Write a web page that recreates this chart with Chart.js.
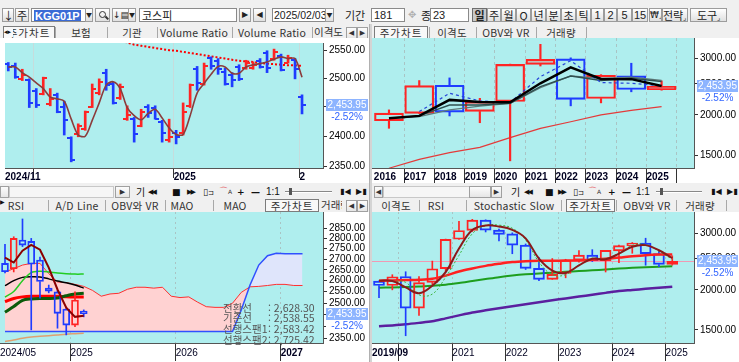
<!DOCTYPE html>
<html lang="ko"><head><meta charset="utf-8">
<script src="https://cdn.jsdelivr.net/npm/chart.js@4.4.1/dist/chart.umd.min.js"></script>
<style>
*{box-sizing:border-box}
body{margin:0;width:739px;height:362px;overflow:hidden;background:#f0f0f0;position:relative;font-family:"Noto Sans CJK KR","Noto Sans",sans-serif;color:#222}
.b{position:absolute;top:8px;height:14px;border:1px solid #9c9c9c;background:linear-gradient(#ffffff,#e0e0e0);font-size:11px;line-height:12px;text-align:center;white-space:nowrap;overflow:hidden}
.b.p{background:#c9c9c9;border-color:#6e6e6e;font-weight:bold}
.i{position:absolute;top:8px;height:14px;border:1px solid #8a8a8a;background:#fff;font-size:11px;line-height:12px;padding-left:2px;white-space:nowrap;overflow:hidden}
.t{position:absolute;font-size:11px;line-height:12px;white-space:nowrap}
.tab{position:absolute;font-size:10.5px;line-height:11px;white-space:nowrap;transform:translateX(-50%);color:#333;letter-spacing:0.2px}
.sep{position:absolute;width:1px;height:11px;background:#a8a8a8}
.act{position:absolute;height:13px;border:1px solid #7c7c7c;background:#f8f8f8;font-size:10.5px;line-height:11px;text-align:center;color:#333;letter-spacing:1px}
.ic{position:absolute;font-family:"DejaVu Sans",sans-serif;font-size:9px;line-height:10px;white-space:nowrap;color:#111}
.sb{position:absolute;height:12px;border:1px solid #a0a0a0;background:linear-gradient(#fcfcfc,#e6e6e6);font-family:"DejaVu Sans";font-size:7px;line-height:10px;text-align:center;color:#333}
.trk{position:absolute;height:2px;background:#888;border-bottom:1px solid #fff}
.thb{position:absolute;width:3px;height:7px;background:#555}
.iv{position:absolute;font-size:10.5px;line-height:11px;color:#555;white-space:nowrap}
canvas{position:absolute}
.mag{position:absolute;left:3px;top:2px;width:7px;height:7px;border:1.5px solid #333;border-radius:50%}
.magh{position:absolute;left:9px;top:8px;width:4px;height:1.5px;background:#333;transform:rotate(45deg)}
</style></head><body>

<!-- ===== top toolbar ===== -->
<div class="b" style="left:2px;width:12px">↓</div>
<div class="b" style="left:15px;width:14px">주</div>
<div class="i" style="left:31px;width:55px;padding-left:2px"><span style="background:#3a6bd6;color:#fff;font-weight:bold;font-family:'Liberation Sans',Arial;font-size:11px;padding:0 1px">KGG01P</span></div>
<div class="b" style="left:85px;width:8px;font-size:6px">▼</div>
<div class="b" style="left:95px;width:15px"><span class="mag"></span><span class="magh"></span></div>
<div class="b" style="left:112px;width:17px;font-size:9px;font-family:'DejaVu Sans'">↓▤</div>
<div class="b" style="left:128px;width:8px;font-size:6px">▼</div>
<div class="i" style="left:139px;width:98px">코스피</div>
<div class="b" style="left:239px;width:12px;font-size:8px;font-family:'DejaVu Sans'">▶</div>
<div class="b" style="left:253px;width:13px;font-size:8px;font-family:'DejaVu Sans'">◀</div>
<div class="i" style="left:272px;width:62px;font-family:'Liberation Sans';font-size:10.5px;padding-left:1px">2025/02/03</div>
<div class="b" style="left:325px;width:9px;font-size:6px">▼</div>
<div class="t" style="left:345px;top:9px">기간</div>
<div class="i" style="left:371px;width:34px;font-family:'Liberation Sans'">181</div>
<div class="t" style="left:408px;top:9px;color:#b0b0b0;font-family:'DejaVu Sans';font-size:10px">✥</div>
<div class="t" style="left:421px;top:9px">종</div>
<div class="i" style="left:430px;width:39px;font-family:'Liberation Sans'">23</div>
<div class="b p" style="left:472px;width:15px">일</div>
<div class="b" style="left:487px;width:14px">주</div>
<div class="b" style="left:501px;width:15px">월</div>
<div class="b" style="left:516px;width:15px">Q</div>
<div class="b" style="left:531px;width:15px">년</div>
<div class="b" style="left:546px;width:15px">분</div>
<div class="b" style="left:561px;width:15px">초</div>
<div class="b" style="left:576px;width:15px">틱</div>
<div class="b" style="left:591px;width:13px;font-family:'Liberation Sans'">1</div>
<div class="b" style="left:604px;width:13px;font-family:'Liberation Sans'">2</div>
<div class="b" style="left:617px;width:15px;font-family:'Liberation Sans'">5</div>
<div class="b" style="left:632px;width:16px;font-family:'Liberation Sans'">15</div>
<div class="b" style="left:649px;width:13px;font-family:'DejaVu Sans';font-size:9px">₩<span style="font-size:6px">⌟</span></div>
<div class="b" style="left:662px;width:26px;text-align:right;padding-right:1px">전략<span style="font-size:7px">⌟</span></div>
<div class="b" style="left:690px;width:37px">도구<span style="font-size:7px">⌟</span></div>

<!-- ===== top tab rows ===== -->
<div class="act" style="left:3px;top:26px;width:52px">주가차트</div>
<div class="ic" style="left:4px;top:27px;width:9px;font-size:7px;background:#f8f8f8">◂▸</div>
<div class="sep" style="left:55px;top:27px"></div>
<div class="tab" style="left:81px;top:27px">보험</div>
<div class="sep" style="left:107px;top:27px"></div>
<div class="tab" style="left:132px;top:27px">기관</div>
<div class="sep" style="left:157px;top:27px"></div>
<div class="tab" style="left:194px;top:27px">Volume Ratio</div>
<div class="sep" style="left:232px;top:27px"></div>
<div class="tab" style="left:272px;top:27px">Volume Ratio</div>
<div class="sep" style="left:312px;top:27px"></div>
<div class="t" style="left:314px;top:26px;width:32px;overflow:hidden;font-size:10.5px;color:#333">이격도</div>
<div class="sb" style="left:346px;top:27px;width:11px">◀</div>
<div class="sb" style="left:357px;top:27px;width:11px">▶</div>

<div class="act" style="left:374px;top:26px;width:54px">주가차트</div>
<div class="sep" style="left:429px;top:27px"></div>
<div class="tab" style="left:452px;top:27px">이격도</div>
<div class="sep" style="left:476px;top:27px"></div>
<div class="tab" style="left:506px;top:27px">OBV와 VR</div>
<div class="sep" style="left:536px;top:27px"></div>
<div class="tab" style="left:561px;top:27px">거래량</div>
<div class="sep" style="left:586px;top:27px"></div>

<!-- panel divider -->
<div style="position:absolute;left:369px;top:24px;width:3px;height:338px;background:#d4d4d4;border-left:1px solid #b0b0b0"></div>

<!-- ===== middle toolbars ===== -->
<div class="sb" style="left:0px;top:186px;width:9px"></div>
<div style="position:absolute;left:9px;top:186px;width:105px;height:12px;background:#f6f6f6;border:1px solid #c8c8c8"></div>
<div class="sb" style="left:115px;top:186px;width:15px">▶</div>
<div class="ic" style="left:136px;top:187px;font-family:'Noto Sans CJK KR';font-size:10px">기</div>
<div class="ic" style="left:148px;top:187px;font-size:7px;letter-spacing:-2px">◀◀</div>
<div class="ic" style="left:172px;top:187px">■</div>
<div class="ic" style="left:187px;top:187px;font-size:7px;letter-spacing:-2px">▶▶</div>
<div class="ic" style="left:203px;top:187px">▯<span style="font-size:7px">⊐</span></div>
<div class="ic" style="left:219px;top:186px;color:#e03030">⌒<span style="font-size:6px;color:#333">A</span></div>
<div class="ic" style="left:237px;top:187px;font-weight:bold">+</div>
<div class="ic" style="left:251px;top:187px;font-weight:bold">—</div>
<div class="ic" style="left:266px;top:187px;font-family:'Liberation Sans';font-size:10px">1:1</div>
<div class="trk" style="left:285px;top:191px;width:47px"></div>
<div class="thb" style="left:289px;top:188px"></div>
<div class="ic" style="left:340px;top:187px;font-size:8px;font-weight:bold">▮◀</div>
<div class="ic" style="left:356px;top:187px;font-size:8px;font-weight:bold">▶▮</div>

<div class="sb" style="left:374px;top:186px;width:9px">◀</div>
<div style="position:absolute;left:383px;top:186px;width:87px;height:12px;background:#f6f6f6;border:1px solid #c8c8c8"></div>
<div class="sb" style="left:469px;top:186px;width:22px"></div>
<div class="sb" style="left:491px;top:186px;width:11px">▶</div>
<div class="ic" style="left:511px;top:187px;font-family:'Noto Sans CJK KR';font-size:10px">기</div>
<div class="ic" style="left:524px;top:187px;font-size:7px;letter-spacing:-2px">◀◀</div>
<div class="ic" style="left:545px;top:187px">■</div>
<div class="ic" style="left:558px;top:187px;font-size:7px;letter-spacing:-2px">▶▶</div>
<div class="ic" style="left:573px;top:187px">▯<span style="font-size:7px">⊐</span></div>
<div class="ic" style="left:588px;top:186px;color:#e03030">⌒<span style="font-size:6px;color:#333">A</span></div>
<div class="ic" style="left:608px;top:187px;font-weight:bold">+</div>
<div class="ic" style="left:622px;top:187px;font-weight:bold">—</div>
<div class="ic" style="left:636px;top:187px;font-family:'Liberation Sans';font-size:10px">1:1</div>
<div class="trk" style="left:656px;top:191px;width:46px"></div>
<div class="thb" style="left:660px;top:188px"></div>
<div class="ic" style="left:711px;top:187px;font-size:8px;font-weight:bold">▮◀</div>
<div class="ic" style="left:727px;top:187px;font-size:8px;font-weight:bold">▶▮</div>

<!-- ===== bottom tab rows ===== -->
<div class="ic" style="left:0px;top:197px;font-size:6px">▶</div>
<div class="tab" style="left:16px;top:200px">RSI</div>
<div class="sep" style="left:48px;top:200px"></div>
<div class="tab" style="left:77px;top:200px">A/D Line</div>
<div class="sep" style="left:105px;top:200px"></div>
<div class="tab" style="left:135px;top:200px">OBV와 VR</div>
<div class="sep" style="left:165px;top:200px"></div>
<div class="tab" style="left:182px;top:200px">MAO</div>
<div class="sep" style="left:213px;top:200px"></div>
<div class="tab" style="left:235px;top:200px">MAO</div>
<div class="act" style="left:265px;top:199px;width:54px">주가차트</div>
<div class="t" style="left:321px;top:199px;width:21px;overflow:hidden;font-size:10.5px;color:#333">거래량</div>
<div class="sb" style="left:346px;top:200px;width:11px">◀</div>
<div class="sb" style="left:357px;top:200px;width:11px">▶</div>

<div class="tab" style="left:396px;top:200px">이격도</div>
<div class="sep" style="left:419px;top:200px"></div>
<div class="tab" style="left:436px;top:200px">RSI</div>
<div class="sep" style="left:466px;top:200px"></div>
<div class="tab" style="left:514px;top:200px">Stochastic Slow</div>
<div class="sep" style="left:561px;top:200px"></div>
<div class="act" style="left:566px;top:199px;width:49px">주가차트</div>
<div class="sep" style="left:616px;top:200px"></div>
<div class="tab" style="left:647px;top:200px">OBV와 VR</div>
<div class="sep" style="left:676px;top:200px"></div>
<div class="tab" style="left:700px;top:200px">거래량</div>
<div class="sep" style="left:726px;top:200px"></div>

<!-- ===== charts ===== -->
<canvas id="cTL" width="369" height="145" style="left:0;top:38px"></canvas>
<canvas id="cTR" width="367" height="145" style="left:372px;top:38px"></canvas>
<canvas id="cBL" width="369" height="150" style="left:0;top:212px"></canvas>
<canvas id="cBR" width="367" height="150" style="left:372px;top:212px"></canvas>

<!-- ichimoku readout -->
<div class="iv" style="left:223px;top:302px">전환선</div><div class="iv" style="left:268px;top:302px">: 2,628.30</div>
<div class="iv" style="left:223px;top:312px">기준선</div><div class="iv" style="left:268px;top:312px">: 2,538.55</div>
<div class="iv" style="left:223px;top:323px">선행스팬1</div><div class="iv" style="left:268px;top:323px">: 2,583.42</div>
<div class="iv" style="left:223px;top:334px">선행스팬2</div><div class="iv" style="left:268px;top:334px">: 2,725.42</div>

<script>
// ================= DATA =================
const lastPrice = 2453.95;
const changePct = -2.52;

// --- top-left: daily (KOSPI) ---
const dailyDates = ['2024-11-26','2024-11-27','2024-11-28','2024-11-29','2024-12-02','2024-12-03','2024-12-04','2024-12-05','2024-12-06','2024-12-09','2024-12-10','2024-12-11','2024-12-12','2024-12-13','2024-12-16','2024-12-17','2024-12-18','2024-12-19','2024-12-20','2024-12-23','2024-12-24','2024-12-26','2024-12-27','2024-12-30','2025-01-02','2025-01-03','2025-01-06','2025-01-07','2025-01-08','2025-01-09','2025-01-10','2025-01-13','2025-01-14','2025-01-15','2025-01-16','2025-01-17','2025-01-20','2025-01-21','2025-01-22','2025-01-23','2025-01-24','2025-01-31','2025-02-03'];
const dailyOpen  = [2525,2521,2498,2497,2478,2473,2455,2470,2450,2397,2403,2412,2450,2475,2510,2490,2466,2430,2430,2418,2450,2448,2425,2394,2405,2405,2452,2517,2490,2536,2530,2512,2505,2520,2518,2518,2530,2545,2534,2540,2528,2532,2468];
const dailyHigh  = [2528,2527,2516,2499,2482,2502,2482,2474,2460,2399,2421,2443,2490,2499,2516,2493,2490,2452,2432,2446,2454,2452,2427,2429,2410,2457,2490,2521,2527,2538,2535,2518,2510,2524,2532,2529,2535,2549,2552,2543,2541,2535,2471];
const dailyLow   = [2513,2500,2496,2449,2449,2471,2452,2440,2402,2357,2399,2410,2449,2471,2479,2455,2463,2427,2390,2416,2432,2429,2390,2390,2387,2402,2449,2479,2488,2516,2507,2488,2485,2496,2516,2516,2518,2510,2532,2513,2527,2499,2438];
const dailyClose = [2520,2503,2505,2456,2454,2500,2464,2442,2428,2360,2418,2442,2482,2494,2489,2457,2484,2436,2404,2442,2440,2430,2405,2399,2399,2442,2489,2492,2522,2521,2516,2490,2497,2498,2527,2523,2520,2518,2547,2515,2536,2517,2453.95];
const dailyMA5   = [2520,2520,2510,2502,2492,2482,2467,2464,2460,2429,2402,2400,2427,2457,2488,2494,2482,2449,2435,2428,2439,2446,2431,2414,2403,2403,2435,2474,2491,2507,2521,2520,2509,2509,2520,2524,2526,2529,2534,2538,2535,2535,2502];
const dailyMALong= [null,null,null,null,null,null,null,null,null,null,null,null,null,null,null,2570,2567,2564,2560,2558,2556,2554,2552,2550,2549,2547,2545,2543,2541,2539,2537,2535,2533,2531,2530,2529,2527,2526,2525,2524,2523,2523,2522];
const dailyTickLabels = ['2024/11','','2025','2'];

// --- top-right: yearly ---
const yearLabels = ['2016','2017','2018','2019','2020','2021','2022','2023','2024','2025'];
const yearOpen  = [1918,2022,2474,2050,2201,2874,2988,2249,2645,2398];
const yearHigh  = [2073,2558,2607,2252,2878,3316,3010,2668,2896,2552];
const yearLow   = [1817,2020,1985,1891,1439,2839,2134,2180,2360,2387];
const yearClose = [2026,2467,2041,2197,2873,2977,2236,2655,2399,2453.95];
const yearBlack = [1953,1986,2227,2195,2190,2508,2813,2588,2584,2461];
const yearGrayA = [1953,1986,2148,2148,2174,2450,2644,2557,2600,2539];
const yearGrayB = [1950,1975,2072,2131,2170,2430,2644,2600,2620,2560];
const yearBlueDash = [null,2048,2335,2211,2186,2631,2950,2521,2508,2461];
const yearRed   = [1365,1454,1526,1584,1700,1815,1904,2000,2066,2123];

// --- bottom-left: monthly ichimoku ---
const monthLabels = ['2024/05','2024/06','2024/07','2024/08','2024/09','2024/10','2024/11','2024/12','2025/01','2025/02','2025/03','2025/04','2025/05','2025/06','2025/07','2025/08','2025/09','2025/10','2025/11','2025/12','2026/01','2026/02','2026/03','2026/04','2026/05','2026/06','2026/07','2026/08','2026/09','2026/10','2026/11','2026/12','2027/01','2027/02','2027/03'];
const monOpen  = [2680,2655,2792,2785,2696,2566,2549,2474,2405,2465];
const monHigh  = [2771,2808,2897,2800,2710,2580,2556,2480,2550,2470];
const monLow   = [2636,2640,2760,2385,2521,2545,2392,2364,2398,2440];
const monClose = [2641,2800,2767,2676,2596,2553,2455,2405,2513,2454];
const monDarkRed  = [2707,2684,2740,2768,2745,2660,2560,2480,2440,2445];
const monBlack    = [2577,2600,2615,2618,2617,2608,2598,2590,2580,2566];
const monGreen    = [2526,2551,2600,2637,2643,2640,2635,2632,2630,2630];
const monRedThick = [2506,2520,2527,2530,2530,2530,2530,2528,2527,2527];
const monDarkGreen= [2460,2485,2512,2518,2520,2520,2522,2532,2540,2543];
const monTan      = [2337,2343,2350,2355,2358,2361,2364,2367,2369,2371];
const monSpanA = [2640,2655,2672,2680,2680,2632,2594,2591,2583,2574,2556,2530,2540,2543,2561,2570,2570,2566,2570,2530,2524,2527,2504,2484,2481,2481,2499,2547,2572,2574,2578,2583,2583,2578,2578];
const monSpanB = [2378,2378,2378,2378,2378,2378,2378,2378,2378,2378,2378,2378,2378,2378,2378,2378,2378,2378,2378,2378,2378,2378,2378,2378,2378,2378,2378,2470,2580,2672,2716,2728,2725,2725,2725];
const monthTickLabels = ['2024/05','2025','2026','2027'];

// --- bottom-right: quarterly ---
const qLabels = ['2019/09','2019/12','2020/03','2020/06','2020/09','2020/12','2021/03','2021/06','2021/09','2021/12','2022/03','2022/06','2022/09','2022/12','2023/03','2023/06','2023/09','2023/12','2024/03','2024/06','2024/09','2024/12','2025/03'];
const qOpen  = [2129,2063,2201,1754,2108,2327,2874,3061,3296,3068,2988,2757,2332,2155,2249,2476,2564,2465,2645,2746,2797,2593,2398];
const qHigh  = [2135,2229,2277,2200,2458,2878,3266,3316,3305,3091,3010,2779,2519,2503,2490,2650,2668,2655,2757,2808,2896,2640,2552];
const qLow   = [1891,2000,1439,1664,2080,2273,2869,3040,3029,2839,2591,2314,2134,2155,2180,2440,2450,2273,2429,2600,2386,2360,2387];
const qClose = [2063,2197,1754,2108,2327,2873,3061,3296,3068,2977,2757,2332,2155,2236,2476,2564,2465,2655,2746,2797,2593,2399,2453.95];
const qBrown = [2136,2131,2035,1952,2060,2270,2689,3074,3172,3149,3074,2893,2501,2297,2258,2382,2501,2489,2594,2723,2756,2657,2513];
const qGreenDot = [null,2130,2110,1930,1940,2190,2560,2990,3170,3180,3110,2860,2440,2230,2230,2390,2510,2500,2600,2750,2770,2640,2490];
const qRed   = [2136,2140,2145,2150,2165,2215,2280,2330,2375,2410,2440,2455,2462,2465,2467,2470,2480,2498,2520,2545,2565,2575,2578];
const qGreen = [2030,2035,2040,2048,2058,2075,2100,2130,2160,2190,2215,2235,2250,2262,2275,2288,2300,2315,2330,2342,2352,2360,2368];
const qPurple= [1540,1550,1562,1578,1596,1630,1665,1699,1727,1753,1779,1804,1830,1856,1881,1906,1931,1957,1983,1998,2014,2030,2046];
const qTickLabels = ['2019/09','','2021','2022','2023','2024','2025'];

// ================= STYLE / HELPERS =================
const CYAN = '#afeeee', UP = '#ff2424', DOWN = '#1f3cff';
Chart.defaults.font.family = '"Liberation Sans", Arial, sans-serif';
Chart.defaults.animation = false;
Chart.defaults.events = [];

function periodStarts(labels, keyLen) {           // indices where the period key changes
  const out = [];
  for (let i = 1; i < labels.length; i++) if (labels[i].slice(0, keyLen) !== labels[i-1].slice(0, keyLen)) out.push(i);
  return out;
}
function pts(vals) { return vals.map((v, i) => ({x: i, y: v})); }
function lineSet(vals, color, width, extra) {
  return Object.assign({type: 'line', data: pts(vals), borderColor: color, borderWidth: width,
    pointRadius: 0, tension: 0, fill: false}, extra || {});
}
function candleSets(o, h, l, c, bodyW, wickW, bw, ord) {
  const col = o.map((v, i) => c[i] >= v ? UP : DOWN);
  return [
    {type: 'bar', data: o.map((v, i) => ({x: i, y: [Math.max(v, c[i]), h[i]]})), backgroundColor: col, barThickness: wickW, grouped: false, order: ord + 1},
    {type: 'bar', data: o.map((v, i) => ({x: i, y: [l[i], Math.min(v, c[i])]})), backgroundColor: col, barThickness: wickW, grouped: false, order: ord + 1},
    {type: 'bar', data: o.map((v, i) => ({x: i, y: [Math.min(v, c[i]), Math.max(v, c[i])]})), backgroundColor: 'rgba(0,0,0,0)',
      borderColor: col, borderWidth: bw, borderSkipped: false, barThickness: bodyW, grouped: false, order: ord}
  ];
}
function tickImg(color, left) {
  const cv = document.createElement('canvas'); cv.width = 8; cv.height = 2;
  const g = cv.getContext('2d'); g.fillStyle = color; g.fillRect(left ? 0 : 4, 0, 4, 2); return cv;
}
const imgs = {oU: tickImg(UP, true), oD: tickImg(DOWN, true), cU: tickImg(UP, false), cD: tickImg(DOWN, false)};

function scalesFor(cfg) {
  return {
    x: {type: 'linear', min: cfg.xMin, max: cfg.xMax, offset: false,
      afterBuildTicks: s => { s.ticks = cfg.xTicks.map(v => ({value: v})); },
      afterFit: s => { s.height = cfg.xH; s.paddingLeft = 0; s.paddingRight = 0; },
      ticks: {autoSkip: false, maxRotation: 0, minRotation: 0, align: 'start', padding: cfg.xPad, color: '#000020',
        font: ctx => ({size: 10, weight: cfg.bold(ctx.index) ? 'bold' : 'normal'}),
        callback: (v, i) => cfg.xLabels[i]},
      grid: {offset: false, drawOnChartArea: true, drawTicks: true, tickLength: cfg.tickLen,
        color: ctx => ctx.index === 0 ? 'rgba(0,0,0,0)' : cfg.gridColor,
        tickColor: ctx => ctx.index === 0 ? 'rgba(0,0,0,0)' : '#333', lineWidth: 1},
      border: {display: true, color: '#555', width: 1, dash: cfg.gridDash}
    },
    y: {type: 'logarithmic', position: 'right', min: cfg.yMin, max: cfg.yMax,
      afterBuildTicks: s => { s.ticks = cfg.yTicks.map(v => ({value: v})); },
      afterFit: s => { s.width = cfg.yW; s.paddingTop = 0; s.paddingBottom = 0; },
      ticks: {autoSkip: false, padding: 2, color: '#000', font: {size: 10}, callback: v => Number(v).toFixed(2)},
      grid: {drawOnChartArea: false, drawTicks: true, tickLength: 4, tickColor: '#333'},
      border: {display: true, color: '#555'}
    }
  };
}

const bgPlugin = {id: 'bg', beforeDraw(chart) {
  const {ctx, chartArea: ca} = chart; ctx.save();
  ctx.fillStyle = '#fff'; ctx.fillRect(0, 0, chart.width, chart.height);
  ctx.fillStyle = CYAN; ctx.fillRect(ca.left, ca.top, ca.right - ca.left, ca.bottom - ca.top);
  ctx.restore();
}};
const priceLinePlugin = {id: 'priceLine', beforeDatasetsDraw(chart, a, o) {
  if (!o.show) return;
  const {ctx, chartArea: ca, scales: {y}} = chart;
  const yp = Math.round(y.getPixelForValue(o.value)) + 0.5;
  ctx.save(); ctx.strokeStyle = '#f09ab4'; ctx.lineWidth = 1;
  ctx.beginPath(); ctx.moveTo(ca.left, yp); ctx.lineTo(ca.right, yp); ctx.stroke(); ctx.restore();
}};
const tagPlugin = {id: 'priceTag', afterDraw(chart, a, o) {
  const {ctx, chartArea: ca, scales: {y}} = chart;
  const yp = Math.round(y.getPixelForValue(o.value));
  const x0 = ca.right + 3, x1 = chart.width - 1, cx = (x0 + x1) / 2;
  ctx.save();
  ctx.fillStyle = '#fff'; ctx.fillRect(x0, yp + 6, x1 - x0, 13);
  ctx.fillStyle = '#8db4ff'; ctx.fillRect(x0, yp - 6, x1 - x0, 12);
  ctx.font = '10px "Liberation Sans", Arial, sans-serif';
  ctx.textAlign = 'center'; ctx.textBaseline = 'middle';
  ctx.fillStyle = '#fff';
  ctx.fillText(o.value.toLocaleString('en-US', {minimumFractionDigits: 2, maximumFractionDigits: 2}), cx, yp + 0.5);
  ctx.fillStyle = '#3366ff';
  ctx.fillText(o.pct.toFixed(2) + '%', cx, yp + 12.5);
  ctx.restore();
}};

function makeChart(id, datasets, cfg) {
  return new Chart(document.getElementById(id), {
    type: 'line', data: {datasets},
    options: {responsive: false, animation: false, devicePixelRatio: 1, layout: {padding: 0},
      scales: scalesFor(cfg),
      plugins: {legend: {display: false}, tooltip: {enabled: false},
        priceTag: {value: lastPrice, pct: changePct}, priceLine: {show: !!cfg.priceLine, value: lastPrice}}},
    plugins: [bgPlugin, priceLinePlugin, tagPlugin]
  });
}

// ================= TOP-LEFT (daily HLC bars) =================
const tlUp = dailyOpen.map((o, i) => dailyClose[i] >= o);
const tlBounds = periodStarts(dailyDates, 7);
makeChart('cTL', [
  lineSet(dailyMALong, '#ff0000', 2, {borderDash: [2, 2], order: 6}),
  {type: 'bar', data: dailyLow.map((l, i) => ({x: i, y: [l, dailyHigh[i]]})), backgroundColor: tlUp.map(u => u ? UP : DOWN), barThickness: 2, grouped: false, order: 4},
  {type: 'line', data: pts(dailyOpen), showLine: false, pointStyle: tlUp.map(u => u ? imgs.oU : imgs.oD), pointRadius: 3, order: 3},
  {type: 'line', data: pts(dailyClose), showLine: false, pointStyle: tlUp.map(u => u ? imgs.cU : imgs.cD), pointRadius: 3, order: 3},
  lineSet(dailyMA5, '#8b3c3c', 1.6, {tension: 0.3, order: 1})
], {
  xMin: -0.47, xMax: 45.0, xTicks: [-0.47].concat(tlBounds.map(i => i - 0.35)), xLabels: dailyTickLabels,
  xH: 15, xPad: -7, tickLen: 10, gridColor: '#c6dcdc', gridDash: [], bold: i => true,
  yMin: 2346.8, yMax: 2563, yTicks: [2350, 2400, 2450, 2500, 2550], yW: 46
});

// ================= TOP-RIGHT (yearly candles) =================
makeChart('cTR', [
  lineSet(yearRed, '#e43a3a', 1.2, {order: 8}),
  ...candleSets(yearOpen, yearHigh, yearLow, yearClose, 29, 1.5, 1.5, 6),
  lineSet(yearGrayB, '#5e7a7a', 1.2, {order: 4}),
  lineSet(yearGrayA, '#2f5050', 1.5, {order: 3}),
  lineSet(yearBlueDash, '#2646d8', 1.2, {borderDash: [3, 3], order: 2}),
  lineSet(yearBlack, '#000000', 2.5, {order: 1})
], {
  xMin: -0.56, xMax: 10.07, xTicks: yearLabels.map((_, i) => i - 0.5).concat([yearLabels.length - 0.5]), xLabels: yearLabels.concat(['']),
  xH: 15, xPad: -12, tickLen: 15, gridColor: '#a9c4c4', gridDash: [3, 3], bold: i => true,
  yMin: 1367, yMax: 3470, yTicks: [1500, 2000, 2500, 3000], yW: 45
});

// ================= BOTTOM-LEFT (monthly ichimoku) =================
const blBounds = periodStarts(monthLabels, 4);
makeChart('cBL', [
  lineSet(monSpanA, '#ff3030', 1, {order: 20, fill: {target: 1, above: '#ffd2d2', below: '#dfe5fb'}}),
  lineSet(monSpanB, '#3050ff', 1.5, {order: 19}),
  lineSet(monTan, '#e0a070', 1.5, {order: 9, tension: 0.3}),
  lineSet(monDarkGreen, '#0b5a0b', 3, {order: 8, tension: 0.3}),
  lineSet(monRedThick, '#ff0000', 3, {order: 8, tension: 0.3}),
  lineSet(monGreen, '#22cc22', 1.5, {order: 8, tension: 0.3}),
  lineSet(monBlack, '#000000', 1.5, {order: 8, tension: 0.3}),
  ...candleSets(monOpen, monHigh, monLow, monClose, 7, 1, 1.2, 5),
  lineSet(monDarkRed, '#8b0000', 2, {order: 1})
], {
  xMin: -0.57, xMax: 36.34, xTicks: [-0.57].concat(blBounds.map(i => i - 0.5)), xLabels: monthTickLabels,
  xH: 19, xPad: -14, tickLen: 18, gridColor: '#a9c4c4', gridDash: [2, 3], bold: i => i === 3,
  yMin: 2330.7, yMax: 2932.6, yTicks: [2350, 2400, 2450, 2500, 2550, 2600, 2650, 2700, 2750, 2800, 2850], yW: 46
});

// ================= BOTTOM-RIGHT (quarterly) =================
const brBounds = periodStarts(qLabels, 4);
makeChart('cBR', [
  lineSet(qPurple, '#5b1f9f', 2.5, {order: 9, tension: 0.3}),
  lineSet(qGreen, '#1e9e1e', 2, {order: 9, tension: 0.3}),
  ...candleSets(qOpen, qHigh, qLow, qClose, 11, 1, 1.3, 6),
  lineSet(qRed, '#ff2020', 2.5, {order: 3, tension: 0.3}),
  lineSet(qGreenDot, '#3cb43c', 1, {order: 2, borderDash: [2, 2], tension: 0.4}),
  lineSet(qBrown, '#8b1a1a', 2, {order: 1, tension: 0.4})
], {
  xMin: -0.525, xMax: 23.63, xTicks: [-0.525].concat(brBounds.map(i => i - 0.5)), xLabels: qTickLabels,
  xH: 19, xPad: -14, tickLen: 18, gridColor: '#a9c4c4', gridDash: [2, 3], bold: i => i === 0,
  yMin: 1366, yMax: 3495, yTicks: [1500, 2000, 2500, 3000], yW: 45, priceLine: true
});
</script>
</body></html>
